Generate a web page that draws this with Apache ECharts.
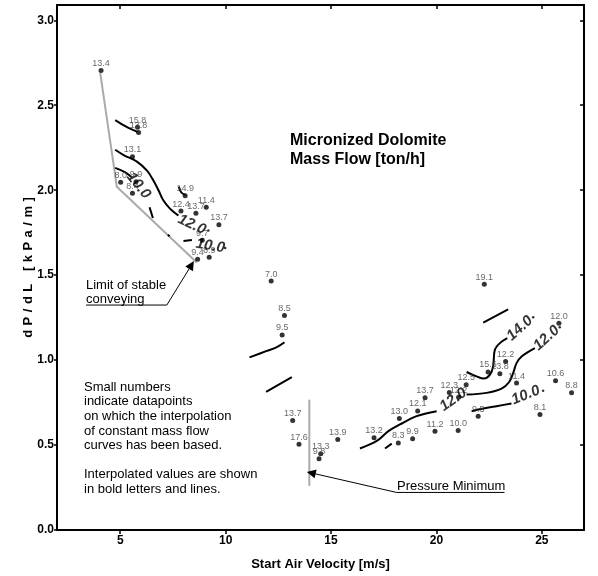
<!DOCTYPE html>
<html>
<head>
<meta charset="utf-8">
<script src="https://cdn.jsdelivr.net/npm/echarts@6/dist/echarts.min.js"></script>
<style>
  html, body { margin: 0; padding: 0; background: #fff; }
  #chart { width: 598px; height: 576px; }
</style>
</head>
<body>
<div id="chart"></div>
<script>
// Axis tick positions
const xTicks = [5, 10, 15, 20, 25];
const yTicks = [0, 0.5, 1.0, 1.5, 2.0, 2.5, 3.0];

// Axis titles
const xTitle = 'Start Air Velocity [m/s]';
const yTitle = 'dP/dL [kPa/m]';

// Measured datapoints: [start air velocity, dP/dL, mass flow ton/h]
const datapoints = [
  [4.09, 2.705, '13.4'], [5.82, 2.371, '15.8'], [5.87, 2.340, '13.8'],
  [5.58, 2.197, '13.1'], [5.02, 2.047, '8.0'], [5.75, 2.050, '9.9'],
  [5.58, 1.982, '8.4'], [8.08, 1.968, '14.9'], [7.88, 1.877, '12.4'],
  [8.59, 1.865, '13.7'], [9.08, 1.900, '11.4'], [9.68, 1.797, '13.7'],
  [8.89, 1.706, '9.7'], [8.67, 1.593, '9.4'], [9.22, 1.605, '8.9'],
  [12.16, 1.465, '7.0'], [12.79, 1.262, '8.5'], [12.68, 1.148, '9.5'],
  [13.18, 0.644, '13.7'], [13.48, 0.504, '17.6'], [14.51, 0.449, '13.3'],
  [14.43, 0.420, '9.8'], [15.32, 0.533, '13.9'],
  [17.04, 0.543, '13.2'], [18.19, 0.512, '8.3'], [18.87, 0.537, '9.9'],
  [18.24, 0.656, '13.0'], [19.11, 0.701, '12.1'], [19.46, 0.779, '13.7'],
  [20.61, 0.810, '12.3'], [21.05, 0.782, '12.2'], [21.41, 0.855, '12.5'],
  [19.93, 0.581, '11.2'], [21.03, 0.586, '10.0'], [21.98, 0.670, '9.5'],
  [22.45, 0.930, '15.6'], [23.01, 0.920, '13.8'], [23.28, 0.992, '12.2'],
  [23.80, 0.865, '11.4'], [22.27, 1.447, '19.1'], [25.81, 1.217, '12.0'],
  [25.65, 0.879, '10.6'], [26.41, 0.808, '8.8'], [24.91, 0.680, '8.1']
];

// Interpolated constant mass flow curves (null separates broken pieces)
const flow14 = [
  [4.76, 2.412], [5.08, 2.388], [5.39, 2.367], [5.82, 2.343], null,
  [7.78, 2.021], [7.89, 1.988], [8.08, 1.972], null,
  [22.22, 1.221], [23.40, 1.299], null,
  [21.43, 0.930], [21.90, 0.904], [22.25, 0.891], [22.54, 0.914], [22.69, 0.963],
  [22.77, 1.060], [23.01, 1.100], [23.36, 1.129]
];
const flow12 = [
  [4.76, 2.238], [5.16, 2.207], [5.79, 2.168], [6.27, 2.115], [6.58, 2.056],
  [6.82, 1.998], [7.05, 1.939], [7.37, 1.890], [7.76, 1.851], null,
  [16.37, 0.480], [17.17, 0.524], [17.72, 0.582], [18.27, 0.621], [19.06, 0.670],
  [20.01, 0.699], null,
  [21.43, 0.797], [22.38, 0.807], [23.09, 0.832], [23.45, 0.871], [23.64, 0.924],
  [23.80, 0.982], [24.04, 1.021], [24.67, 1.070]
];
const flow10 = [
  [4.76, 2.131], [5.24, 2.105], [5.55, 2.076], null,
  [6.39, 1.900], [6.55, 1.836], null,
  [7.26, 1.738], [7.34, 1.728], null,
  [8.00, 1.701], [8.40, 1.707], null,
  [17.56, 0.480], [17.88, 0.508], null,
  [21.67, 0.699], [22.22, 0.715], [22.85, 0.729], [23.56, 0.744]
];
const flowMid = [
  [11.13, 1.016], [11.95, 1.054], [12.43, 1.076], [12.79, 1.105], null,
  [11.92, 0.813], [13.14, 0.900]
];
// Short stubs where the curves continue past their value labels
const curveStubs = [
  [9.18, 1.763], [9.98, 1.660], [24.59, 1.252], [25.85, 1.193], [25.06, 0.820]
];

// Bold curve values placed along the curves
const curveLabels = [
  [8.40, 1.797, '12.0'], [5.87, 2.027, '10.0'], [9.27, 1.672, '10.0'],
  [23.96, 1.187, '14.0'], [25.22, 1.129, '12.0'], [20.80, 0.767, '12.0'],
  [24.24, 0.793, '10.0']
];
const curveLabelAngles = [-25, -52, -10, 42, 42, 35, 22];

// Limit of stable conveying and pressure minimum
const stabilityLimit = [[4.05, 2.69], [4.84, 2.02], [8.63, 1.575]];
const pressureMinimum = [[13.97, 0.767], [13.97, 0.26]];

// Callout leaders
const limitUnderline = [[3.38, 1.324], [7.21, 1.324]];
const limitArrow = [[7.21, 1.324], [8.38, 1.560]];
const pminUnderline = [[18.11, 0.221], [23.23, 0.221]];
const pminArrow = [[18.11, 0.221], [14.06, 0.336]];

const FONT = '"Liberation Sans", Arial, Helvetica, sans-serif';

// Draw the vertical axis title with wide tracking, glyph by glyph
const TITLE_TRACKING = 4.5;
(function () {
  const proto = CanvasRenderingContext2D.prototype;
  const baseFill = proto.fillText;
  proto.fillText = function (text, x, y, maxWidth) {
    if (text !== yTitle) {
      return maxWidth === undefined
        ? baseFill.call(this, text, x, y)
        : baseFill.call(this, text, x, y, maxWidth);
    }
    const chars = Array.from(text);
    const widths = chars.map(c => this.measureText(c).width);
    const total = widths.reduce((a, b) => a + b, 0) + TITLE_TRACKING * (chars.length - 1);
    const align = this.textAlign;
    let cx = x;
    if (align === 'center') cx = x - total / 2;
    else if (align === 'right' || align === 'end') cx = x - total;
    this.textAlign = 'left';
    chars.forEach((c, i) => {
      baseFill.call(this, c, cx, y);
      cx += widths[i] + TITLE_TRACKING;
    });
    this.textAlign = align;
  };
})();

const chart = echarts.init(document.getElementById('chart'), null, { renderer: 'canvas' });

function curveSeries(data) {
  return {
    type: 'line', data: data, showSymbol: false, symbol: 'none', smooth: 0.35,
    connectNulls: false, silent: true, z: 3,
    lineStyle: { color: '#000', width: 2 }
  };
}
function plainLine(data, color, width) {
  return {
    type: 'line', data: data, showSymbol: false, symbol: 'none', silent: true, z: 2,
    lineStyle: { color: color, width: width }
  };
}
function arrowLine(coords) {
  return {
    type: 'lines', coordinateSystem: 'cartesian2d', silent: true, z: 4,
    symbol: ['none', 'triangle'], symbolSize: [0, 9],
    lineStyle: { color: '#000', width: 1, opacity: 1, curveness: 0 },
    data: [{ coords: coords }]
  };
}

chart.setOption({
  animation: false,
  backgroundColor: '#fff',
  grid: { left: 57, top: 5, right: 14, bottom: 43, containLabel: false },
  xAxis: [
    {
      type: 'value', min: 2, max: 27, position: 'bottom',
      name: xTitle, nameLocation: 'middle', nameGap: 28, nameMoveOverlap: false,
      nameTextStyle: { fontFamily: FONT, fontSize: 13, fontWeight: 'bold', color: '#000' },
      axisLine: { show: true, onZero: false, lineStyle: { color: '#000', width: 2 } },
      axisTick: { show: true, inside: false, length: 4, customValues: xTicks, lineStyle: { color: '#000', width: 1.5 } },
      axisLabel: { customValues: xTicks, margin: 5, fontFamily: FONT, fontSize: 12, fontWeight: 'bold', color: '#000' },
      splitLine: { show: false }
    },
    {
      type: 'value', min: 2, max: 27, position: 'top',
      axisLine: { show: true, onZero: false, lineStyle: { color: '#000', width: 2 } },
      axisTick: { show: true, inside: true, length: 4, customValues: xTicks, lineStyle: { color: '#000', width: 1.5 } },
      axisLabel: { show: false },
      splitLine: { show: false }
    }
  ],
  yAxis: [
    {
      type: 'value', min: 0, max: 3.09, position: 'left',
      name: yTitle, nameLocation: 'middle', nameGap: 22, nameMoveOverlap: false,
      nameTextStyle: { fontFamily: FONT, fontSize: 13, fontWeight: 'bold', color: '#000' },
      axisLine: { show: true, onZero: false, lineStyle: { color: '#000', width: 2 } },
      axisTick: { show: true, inside: false, length: 3, customValues: yTicks, lineStyle: { color: '#000', width: 1.5 } },
      axisLabel: {
        customValues: yTicks, margin: 3, fontFamily: FONT, fontSize: 12, fontWeight: 'bold', color: '#000',
        formatter: v => Number(v).toFixed(1)
      },
      splitLine: { show: false }
    },
    {
      type: 'value', min: 0, max: 3.09, position: 'right',
      axisLine: { show: true, onZero: false, lineStyle: { color: '#000', width: 2 } },
      axisTick: { show: true, inside: true, length: 4, customValues: yTicks, lineStyle: { color: '#000', width: 1.5 } },
      axisLabel: { show: false },
      splitLine: { show: false }
    }
  ],
  series: [
    plainLine(stabilityLimit, '#aaaaaa', 2),
    plainLine(pressureMinimum, '#aaaaaa', 2),
    curveSeries(flow14),
    curveSeries(flow12),
    curveSeries(flow10),
    curveSeries(flowMid),
    plainLine(limitUnderline, '#000', 1),
    arrowLine(limitArrow),
    plainLine(pminUnderline, '#000', 1),
    arrowLine(pminArrow),
    {
      type: 'scatter', silent: true, z: 3, symbol: 'circle', symbolSize: 2.5,
      itemStyle: { color: '#000' }, data: curveStubs
    },
    {
      type: 'scatter', silent: true, z: 5,
      symbol: 'circle', symbolSize: 5,
      itemStyle: { color: '#000' },
      label: {
        show: true, position: 'top', distance: 0, formatter: '{b}',
        fontFamily: FONT, fontSize: 9, color: '#444'
      },
      data: datapoints.map(d => ({ value: [d[0], d[1]], name: d[2] }))
    },
    {
      type: 'scatter', silent: true, z: 6, symbolSize: 0,
      data: curveLabels.map((d, i) => ({
        value: [d[0], d[1]], name: d[2],
        label: { rotate: curveLabelAngles[i] }
      })),
      label: {
        show: true, position: 'inside', formatter: '{b}',
        fontFamily: FONT, fontSize: 15, fontWeight: 'bold', fontStyle: 'italic', color: '#000'
      }
    }
  ],
  graphic: [
    {
      type: 'text', left: 290, top: 131, silent: true,
      style: {
        text: 'Micronized Dolomite\nMass Flow [ton/h]', font: 'bold 16px ' + FONT,
        fill: '#000', lineHeight: 19
      }
    },
    {
      type: 'text', left: 86, top: 278, silent: true,
      style: { text: 'Limit of stable\nconveying', font: '13px ' + FONT, fill: '#000', lineHeight: 14 }
    },
    {
      type: 'text', left: 84, top: 380, silent: true,
      style: {
        text: 'Small numbers\nindicate datapoints\non which the interpolation\nof constant mass flow\ncurves has been based.\n\nInterpolated values are shown\nin bold letters and lines.',
        font: '13px ' + FONT, fill: '#000', lineHeight: 14.6
      }
    },
    {
      type: 'text', left: 397, top: 480, silent: true,
      style: { text: 'Pressure Minimum', font: '13px ' + FONT, fill: '#000' }
    }
  ]
});
</script>
</body>
</html>
